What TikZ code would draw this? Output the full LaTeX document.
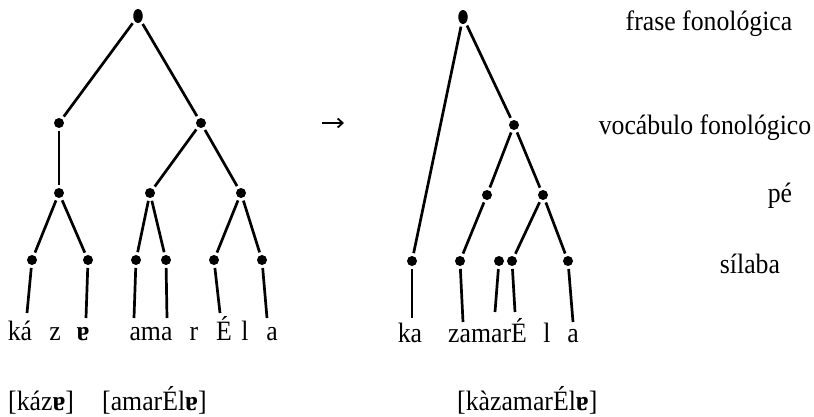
\documentclass[tikz,border=0pt]{standalone}
\usepackage{fontspec}
\setmainfont{Liberation Serif}[FakeStretch=0.92]
\usetikzlibrary{shapes.geometric,arrows.meta}
\newcommand{\tura}{\textbf{ɐ}}
\begin{document}
\begin{tikzpicture}[x=1pt,y=-1pt,
  dot/.style={circle,fill=black,draw=none,minimum size=10pt,inner sep=0pt,outer sep=3pt},
  rootdot/.style={ellipse,fill=black,draw=none,minimum width=9.5pt,minimum height=14pt,inner sep=0pt,outer sep=3pt},
  edge/.style={line width=2.7pt},
  lbl/.style={font=\fontsize{28}{30}\selectfont,inner sep=0pt,anchor=base},
  lvl/.style={font=\fontsize{28}{30}\selectfont,inner sep=0pt,anchor=base}]
\useasboundingbox (0,0) rectangle (814,417);
% ---------- left tree ----------
\node[rootdot] (r) at (138,16) {};
\node[dot] (v1) at (59,123) {};
\node[dot] (v2) at (201,123) {};
\node[dot] (p1) at (59,193) {};
\node[dot] (p2) at (150,193) {};
\node[dot] (p3) at (241,193) {};
\node[dot] (s1) at (32,260) {};
\node[dot] (s2) at (88,260) {};
\node[dot] (s3) at (136,260) {};
\node[dot] (s4) at (166,260) {};
\node[dot] (s5) at (214,260) {};
\node[dot] (s6) at (262,260) {};
\coordinate (e1) at (27,313);
\coordinate (e2) at (86,318);
\coordinate (e3) at (134,318);
\coordinate (e4) at (167,318);
\coordinate (e5) at (220,313);
\coordinate (e6) at (267,318);
\draw[edge] (r) -- (v1);
\draw[edge] (r) -- (v2);
\draw[edge] (v1) -- (p1);
\draw[edge] (v2) -- (p2);
\draw[edge] (v2) -- (p3);
\draw[edge] (p1) -- (s1);
\draw[edge] (p1) -- (s2);
\draw[edge] (p2) -- (s3);
\draw[edge] (p2) -- (s4);
\draw[edge] (p3) -- (s5);
\draw[edge] (p3) -- (s6);
\foreach \i in {1,...,6} {\draw[edge] (s\i) -- (e\i);}
\node[lbl] (w1) at (20,340) {ká};
\node[lbl] (w2) at (55,340) {z};
\node[lbl] (w3) at (83,340) {\tura};
\node[lbl] (w4) at (151,340) {ama};
\node[lbl] (w5) at (194,340) {r};
\node[lbl] (w6) at (224,340) {É};
\node[lbl] (w7) at (245,340) {l};
\node[lbl] (w8) at (272,340) {a};
\node[lbl,anchor=base west] (b1) at (8,410) {[káz\tura]};
\node[lbl,anchor=base west] (b2) at (102,410) {[amarÉl\tura]};
% ---------- arrow ----------
\coordinate (a1) at (322,123);
\coordinate (a2) at (344,123);
\draw[line width=1.8pt,-{Straight Barb[length=5pt,width=9pt]}] (a1) -- (a2);
% ---------- right tree ----------
\node[rootdot] (R) at (463,17) {};
\node[dot] (V) at (514,125) {};
\node[dot] (P1) at (487,195) {};
\node[dot] (P2) at (543,195) {};
\node[dot] (S1) at (412,261) {};
\node[dot] (S2) at (460,261) {};
\node[dot] (S3) at (499,261) {};
\node[dot] (S4) at (512,261) {};
\node[dot] (S5) at (568,261) {};
\coordinate (E1) at (412,318);
\coordinate (E2) at (463,322);
\coordinate (E3) at (495,312);
\coordinate (E4) at (515,312);
\coordinate (E5) at (573,322);
\draw[edge] (R) -- (S1);
\draw[edge] (R) -- (V);
\draw[edge] (V) -- (P1);
\draw[edge] (V) -- (P2);
\draw[edge] (P1) -- (S2);
\draw[edge] (P2) -- (S4);
\draw[edge] (P2) -- (S5);
\foreach \i in {1,...,5} {\draw[edge] (S\i) -- (E\i);}
\node[lbl] (W1) at (410,342) {ka};
\node[lbl,anchor=base west] (W2) at (448,342) {zamarÉ};
\node[lbl] (W3) at (547,342) {l};
\node[lbl] (W4) at (573,342) {a};
\node[lbl,anchor=base west] (B3) at (457,410) {[kàzamarÉl\tura]};
% ---------- level labels ----------
\node[lvl] (L1) at (709,31) {frase fonológica};
\node[lvl] (L2) at (705,135) {vocábulo fonológico};
\node[lvl] (L3) at (780,202) {pé};
\node[lvl] (L4) at (750,273) {sílaba};
\end{tikzpicture}
\end{document}
